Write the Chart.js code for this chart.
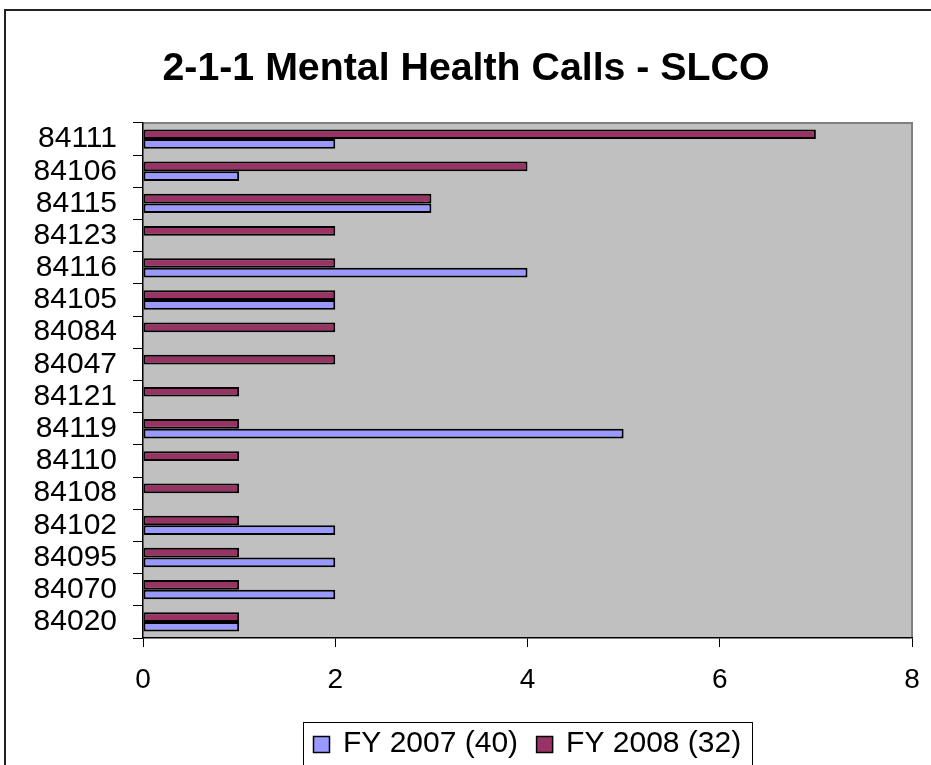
<!DOCTYPE html>
<html><head><meta charset="utf-8">
<script src="https://cdn.jsdelivr.net/npm/chart.js@4.4.0/dist/chart.umd.min.js"></script>
<style>html,body{margin:0;padding:0;background:#fff;} canvas{display:block;}</style>
</head><body>
<canvas id="c" width="931" height="765"></canvas>
<script>
const titleText = '2-1-1 Mental Health Calls - SLCO';
const categories = ['84111','84106','84115','84123','84116','84105','84084','84047','84121','84119','84110','84108','84102','84095','84070','84020'];
const fy2007 = [2,1,3,0,4,2,0,0,0,5,0,0,2,2,2,1];
const fy2008 = [7,4,3,2,2,2,2,2,1,1,1,1,1,1,1,1];
const seriesLabels = ['FY 2007 (40)', 'FY 2008 (32)'];
const xTicks = [0,2,4,6,8];
const FONT = '"Liberation Sans", Arial, Helvetica, sans-serif';

const plotBg = {
  id: 'plotBg',
  beforeDraw(chart) {
    const {ctx, chartArea: a} = chart;
    ctx.save();
    ctx.fillStyle = '#fff';
    ctx.fillRect(0, 0, chart.width, chart.height);
    ctx.strokeStyle = '#222';
    ctx.lineWidth = 2;
    ctx.strokeRect(5, 10, chart.width + 20, chart.height + 20);
    ctx.fillStyle = '#c0c0c0';
    ctx.fillRect(a.left, a.top, a.right - a.left, a.bottom - a.top);
    ctx.strokeStyle = '#808080';
    ctx.lineWidth = 2;
    ctx.beginPath();
    ctx.moveTo(a.left, a.top);
    ctx.lineTo(a.right, a.top);
    ctx.lineTo(a.right, a.bottom);
    ctx.stroke();
    ctx.restore();
  }
};

const boxLegend = {
  id: 'boxLegend',
  afterDraw(chart) {
    const ctx = chart.ctx;
    ctx.save();
    ctx.strokeStyle = '#000';
    ctx.lineWidth = 1;
    ctx.strokeRect(303.5, 722.5, 449, 80);
    ctx.font = '30px ' + FONT;
    ctx.textBaseline = 'middle';
    ctx.textAlign = 'left';
    const cy = 744;
    let x = 313;
    const items = chart.data.datasets.slice().reverse();
    items.forEach(ds => {
      ctx.fillStyle = ds.backgroundColor;
      ctx.fillRect(x, cy - 8, 17, 17);
      ctx.strokeStyle = '#000';
      ctx.lineWidth = 1.5;
      ctx.strokeRect(x + 0.5, cy - 7.5, 16, 16);
      ctx.fillStyle = '#000';
      const tx = x + 30;
      ctx.fillText(ds.label, tx, cy);
      x = tx + ctx.measureText(ds.label).width + 18;
    });
    ctx.restore();
  }
};

new Chart(document.getElementById('c'), {
  type: 'bar',
  data: {
    labels: categories,
    datasets: [
      { label: seriesLabels[1], data: fy2008, backgroundColor: '#993366', borderColor: '#000', borderWidth: 2,
        borderSkipped: false, inflateAmount: 0, categoryPercentage: 0.6, barPercentage: 1 },
      { label: seriesLabels[0], data: fy2007, backgroundColor: '#9999FF', borderColor: '#000', borderWidth: 2,
        borderSkipped: false, inflateAmount: 0, categoryPercentage: 0.6, barPercentage: 1 }
    ]
  },
  options: {
    indexAxis: 'y',
    responsive: false,
    animation: false,
    devicePixelRatio: 1,
    layout: { padding: { left: 20, right: 19, top: 0, bottom: 57 } },
    plugins: {
      legend: { display: false },
      tooltip: { enabled: false },
      title: {
        display: true, text: titleText, color: '#000',
        font: { family: FONT, size: 39.3, weight: 'bold', lineHeight: 1.2 },
        padding: { top: 46, bottom: 29.8 }
      }
    },
    scales: {
      x: {
        type: 'linear', position: 'bottom', min: 0, max: 8,
        afterBuildTicks: s => { s.ticks = xTicks.map(v => ({ value: v })); },
        afterFit: s => { s.height = 70; },
        ticks: { color: '#000', font: { family: FONT, size: 28, lineHeight: 1.79 }, padding: 8 },
        grid: { drawOnChartArea: false, drawTicks: true, tickLength: 9, color: '#000', lineWidth: 1 },
        border: { display: true, color: '#000', width: 1.5 }
      },
      y: {
        type: 'category', offset: true,
        afterFit: s => { s.width = 123; },
        ticks: { color: '#000', font: { family: FONT, size: 30 }, padding: 16, autoSkip: false },
        grid: { offset: true, drawOnChartArea: false, drawTicks: true, tickLength: 10, color: '#000', lineWidth: 1 },
        border: { display: true, color: '#000', width: 1.5 }
      }
    }
  },
  plugins: [plotBg, boxLegend]
});
</script>
</body></html>
